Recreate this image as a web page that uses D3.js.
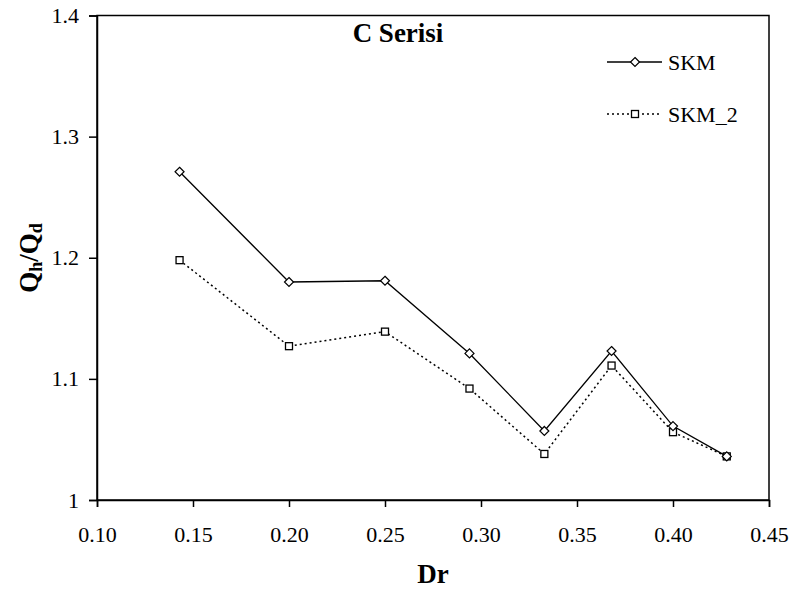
<!DOCTYPE html>
<html>
<head>
<meta charset="utf-8">
<script src="https://cdn.jsdelivr.net/npm/d3@7"></script>
<style>
  body { margin: 0; background: #fff; }
  text { font-family: "Liberation Serif", "Times New Roman", serif; fill: #000; }
</style>
</head>
<body>
<div id="chart"></div>
<script>
// Dr values (x) and the two series
const drValues = [0.143, 0.200, 0.250, 0.294, 0.333, 0.368, 0.400, 0.428];
const skm = [1.271, 1.180, 1.181, 1.121, 1.057, 1.123, 1.061, 1.036];
const skm2 = [1.198, 1.127, 1.139, 1.092, 1.038, 1.111, 1.056, 1.036];
const seriesNames = ["SKM", "SKM_2"];
const xTicks = [0.10, 0.15, 0.20, 0.25, 0.30, 0.35, 0.40, 0.45];
const yTicks = [1.0, 1.1, 1.2, 1.3, 1.4];

const width = 794, height = 593;
const margin = { top: 15.5, right: 25, bottom: 93, left: 97 };

const svg = d3.select("#chart").append("svg")
    .attr("width", width)
    .attr("height", height);

const x = d3.scaleLinear().domain([0.10, 0.45]).range([margin.left, 769]);
const y = d3.scaleLinear().domain([1.0, 1.4]).range([height - margin.bottom, margin.top]);

// plot frame
svg.append("rect")
    .attr("x", x(0.10)).attr("y", y(1.4))
    .attr("width", x(0.45) - x(0.10)).attr("height", y(1.0) - y(1.4))
    .attr("fill", "none").attr("stroke", "#000").attr("stroke-width", 1.5);

// axes
const xAxis = svg.append("g")
    .attr("transform", `translate(0,${y(1.0)})`)
    .call(d3.axisBottom(x).tickValues(xTicks).tickFormat(d3.format(".2f")).tickSize(7).tickPadding(19));
const yAxis = svg.append("g")
    .attr("transform", `translate(${x(0.10)},0)`)
    .call(d3.axisLeft(y).tickValues(yTicks).tickFormat(d => d === 1 ? "1" : d3.format(".1f")(d)).tickSize(8).tickPadding(10));

[xAxis, yAxis].forEach(a => {
    a.attr("font-family", null).attr("font-size", null);
    a.select(".domain").attr("stroke", "#000").attr("stroke-width", 1.5);
    a.selectAll(".tick line").attr("stroke", "#000").attr("stroke-width", 1.5);
    a.selectAll(".tick text").attr("font-size", 22).attr("fill", "#000");
});

// lines
const line = d3.line().x((d, i) => x(drValues[i])).y(d => y(d));

svg.append("path").datum(skm)
    .attr("d", line).attr("fill", "none")
    .attr("stroke", "#000").attr("stroke-width", 1.3);
svg.append("path").datum(skm2)
    .attr("d", line).attr("fill", "none")
    .attr("stroke", "#000").attr("stroke-width", 1.5)
    .attr("stroke-dasharray", "2,3");

function diamond(g, cx, cy) {
    g.append("path")
        .attr("d", `M${cx},${cy - 4.5}L${cx + 4.5},${cy}L${cx},${cy + 4.5}L${cx - 4.5},${cy}Z`)
        .attr("fill", "#fff").attr("stroke", "#000").attr("stroke-width", 1.2);
}
function square(g, cx, cy) {
    g.append("rect")
        .attr("x", cx - 3.5).attr("y", cy - 3.5).attr("width", 7).attr("height", 7)
        .attr("fill", "#fff").attr("stroke", "#000").attr("stroke-width", 1.3);
}

const marks = svg.append("g");
skm2.forEach((v, i) => square(marks, x(drValues[i]), y(v)));
skm.forEach((v, i) => diamond(marks, x(drValues[i]), y(v)));

// legend
const legend = svg.append("g");
const legendY = [62, 114];
legend.append("line").attr("x1", 607).attr("x2", 662).attr("y1", legendY[0]).attr("y2", legendY[0])
    .attr("stroke", "#000").attr("stroke-width", 1.3);
diamond(legend, 635, legendY[0]);
legend.append("line").attr("x1", 607).attr("x2", 662).attr("y1", legendY[1]).attr("y2", legendY[1])
    .attr("stroke", "#000").attr("stroke-width", 1.5).attr("stroke-dasharray", "2,3");
square(legend, 635, legendY[1]);
seriesNames.forEach((name, i) => {
    legend.append("text")
        .attr("x", 668).attr("y", legendY[i] + 7.5)
        .attr("font-size", 22)
        .text(name);
});

// title
svg.append("text")
    .attr("x", 398).attr("y", 42)
    .attr("text-anchor", "middle")
    .attr("font-size", 27).attr("font-weight", "bold")
    .text("C Serisi");

// x label
svg.append("text")
    .attr("x", 433).attr("y", 583)
    .attr("text-anchor", "middle")
    .attr("font-size", 27).attr("font-weight", "bold")
    .text("Dr");

// y label with subscripts
const yLabel = svg.append("text")
    .attr("transform", "translate(38,258) rotate(-90)")
    .attr("text-anchor", "middle")
    .attr("font-size", 27).attr("font-weight", "bold");
yLabel.append("tspan").text("Q");
yLabel.append("tspan").attr("font-size", 18).attr("dy", 4).text("h");
yLabel.append("tspan").attr("dy", -4).text("/Q");
yLabel.append("tspan").attr("font-size", 18).attr("dy", 4).text("d");
</script>
</body>
</html>
